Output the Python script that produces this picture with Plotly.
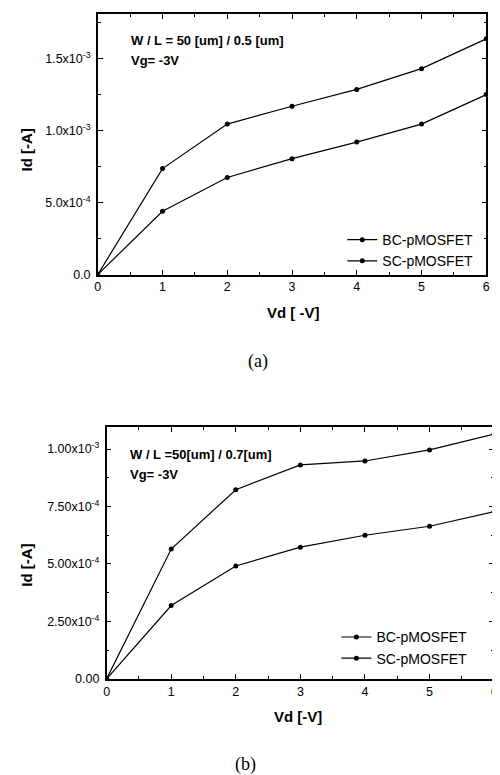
import plotly.graph_objects as go

# ---------------- data ----------------
vd = [0, 1, 2, 3, 4, 5, 6]

# (a) W/L = 50um / 0.5um
a_bc = [0.0, 7.36e-4, 1.045e-3, 1.169e-3, 1.286e-3, 1.43e-3, 1.637e-3]
a_sc = [0.0, 4.40e-4, 6.74e-4, 8.05e-4, 9.20e-4, 1.045e-3, 1.25e-3]

# (b) W/L = 50um / 0.7um
b_bc = [0.0, 5.65e-4, 8.23e-4, 9.31e-4, 9.48e-4, 9.96e-4, 1.065e-3]
b_sc = [0.0, 3.19e-4, 4.91e-4, 5.73e-4, 6.25e-4, 6.64e-4, 7.28e-4]

x_ticks = [0, 1, 2, 3, 4, 5, 6]
x_ticklabels = ["0", "1", "2", "3", "4", "5", "6"]
x_minor = [0.5, 1.5, 2.5, 3.5, 4.5, 5.5]

a_yticks = [0, 5e-4, 1e-3, 1.5e-3]
a_yticklabels = ["0.0", "5.0x10<sup>-4</sup>", "1.0x10<sup>-3</sup>", "1.5x10<sup>-3</sup>"]
a_yminor = [2.5e-4, 7.5e-4, 1.25e-3, 1.75e-3]

b_yticks = [0, 2.5e-4, 5e-4, 7.5e-4, 1e-3]
b_yticklabels = ["0.00", "2.50x10<sup>-4</sup>", "5.00x10<sup>-4</sup>",
                 "7.50x10<sup>-4</sup>", "1.00x10<sup>-3</sup>"]
b_yminor = [1.25e-4, 3.75e-4, 6.25e-4, 8.75e-4]

names = ["BC-pMOSFET", "SC-pMOSFET"]

W, H = 500, 775
FONT = "Liberation Sans"

def px_x(v):
    return v / W

def px_y(v):
    return 1 - v / H

fig = go.Figure()

line = dict(color="black", width=1.2)
marker = dict(color="black", size=5, symbol="circle")

fig.add_trace(go.Scatter(x=vd, y=a_bc, mode="lines+markers", name=names[0],
                         line=line, marker=marker, xaxis="x", yaxis="y", legend="legend"))
fig.add_trace(go.Scatter(x=vd, y=a_sc, mode="lines+markers", name=names[1],
                         line=line, marker=marker, xaxis="x", yaxis="y", legend="legend"))
fig.add_trace(go.Scatter(x=vd, y=b_bc, mode="lines+markers", name=names[0],
                         line=line, marker=marker, xaxis="x2", yaxis="y2", legend="legend2"))
fig.add_trace(go.Scatter(x=vd, y=b_sc, mode="lines+markers", name=names[1],
                         line=line, marker=marker, xaxis="x2", yaxis="y2", legend="legend2"))

axis_common = dict(showline=True, linecolor="black", linewidth=1.5, mirror="allticks",
                   ticks="inside", ticklen=5, tickwidth=1, tickcolor="black",
                   showgrid=False, zeroline=False, tickmode="array",
                   tickfont=dict(family=FONT, size=12.5, color="black"))

def minor(vals):
    return dict(tickmode="array", tickvals=vals, ticks="inside", ticklen=3,
                tickwidth=1, tickcolor="black", showgrid=False)

fig.update_layout(
    width=W, height=H,
    margin=dict(l=0, r=0, t=0, b=0),
    paper_bgcolor="white", plot_bgcolor="white",
    xaxis=dict(domain=[px_x(88), px_x(482)], range=[0, 6], anchor="y",
               tickvals=x_ticks, ticktext=x_ticklabels, minor=minor(x_minor),
               **axis_common),
    yaxis=dict(domain=[px_y(269), px_y(6)], range=[0, 1.81e-3], anchor="x",
               tickvals=a_yticks, ticktext=a_yticklabels, minor=minor(a_yminor),
               ticklabelstandoff=3, **axis_common),
    xaxis2=dict(domain=[px_x(97), px_x(490)], range=[0, 6], anchor="y2",
                tickvals=x_ticks, ticktext=x_ticklabels, minor=minor(x_minor),
                **axis_common),
    yaxis2=dict(domain=[px_y(677), px_y(423)], range=[0, 1.095e-3], anchor="x2",
                tickvals=b_yticks, ticktext=b_yticklabels, minor=minor(b_yminor),
                ticklabelstandoff=3, **axis_common),
    legend=dict(x=px_x(336), y=px_y(218), xanchor="left", yanchor="top",
                bgcolor="rgba(0,0,0,0)", tracegroupgap=0,
                font=dict(family=FONT, size=14, color="black"), itemwidth=30),
    legend2=dict(x=px_x(330), y=px_y(619), xanchor="left", yanchor="top",
                 bgcolor="rgba(0,0,0,0)", tracegroupgap=0,
                 font=dict(family=FONT, size=14, color="black"), itemwidth=30),
    showlegend=True,
)

ann_font = dict(family=FONT, size=13, color="black")
title_font = dict(family=FONT, size=15, color="black")
annotations = [
    dict(text="<b>W / L = 50 [um] / 0.5 [um]</b>", x=px_x(120), y=px_y(33),
         xanchor="left", yanchor="middle", font=ann_font),
    dict(text="<b>Vg= -3V</b>", x=px_x(120), y=px_y(53),
         xanchor="left", yanchor="middle", font=ann_font),
    dict(text="<b>W / L =50[um] / 0.7[um]</b>", x=px_x(119), y=px_y(451),
         xanchor="left", yanchor="middle", font=ann_font),
    dict(text="<b>Vg= -3V</b>", x=px_x(119), y=px_y(471),
         xanchor="left", yanchor="middle", font=ann_font),
    dict(text="<b>Id [-A]</b>", x=px_x(16), y=px_y(143), textangle=-90,
         xanchor="center", yanchor="middle", font=title_font),
    dict(text="<b>Id [-A]</b>", x=px_x(16), y=px_y(562), textangle=-90,
         xanchor="center", yanchor="middle", font=title_font),
    dict(text="<b>Vd [ -V]</b>", x=px_x(287), y=px_y(307),
         xanchor="center", yanchor="middle", font=title_font),
    dict(text="<b>Vd [-V]</b>", x=px_x(291), y=px_y(715),
         xanchor="center", yanchor="middle", font=title_font),
    dict(text="(a)", x=px_x(250), y=px_y(357), xanchor="center", yanchor="middle",
         font=dict(family="Liberation Serif", size=18, color="black")),
    dict(text="(b)", x=px_x(238), y=px_y(763), xanchor="center", yanchor="middle",
         font=dict(family="Liberation Serif", size=18, color="black")),
]
for a in annotations:
    a.update(xref="paper", yref="paper", showarrow=False)
fig.update_layout(annotations=annotations)

fig.write_html("out.html")
